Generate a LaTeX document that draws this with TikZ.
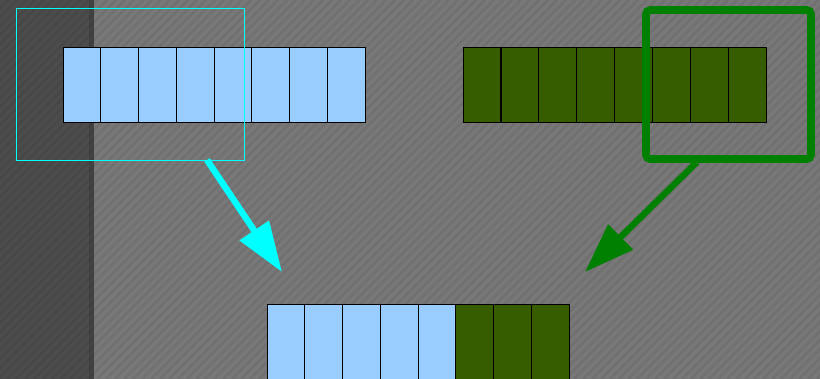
\documentclass[tikz,border=0pt]{standalone}
\usetikzlibrary{arrows.meta}
\definecolor{hellblau}{HTML}{99CCFF}
\definecolor{dunkelgruen}{HTML}{365E00}
\definecolor{rahmengruen}{HTML}{008000}
\definecolor{grundgrau}{HTML}{787878}
\definecolor{tuerkis}{HTML}{00FFFF}
\begin{document}
\begin{tikzpicture}[
      x=0.025cm, y=-0.025cm,
      cell/.style={draw=black, line width=0.6pt, inner sep=0pt, minimum width=0.944cm, minimum height=1.875cm},
      bluecell/.style={cell, fill=hellblau},
      greencell/.style={cell, fill=dunkelgruen},
      auswahl/.style={draw=tuerkis, line width=0.7pt, inner sep=0pt},
      auswahlgruen/.style={draw=rahmengruen, line width=0.19cm, rounded corners=3pt, inner sep=0pt},
      pfeil/.style={-{Triangle[length=1.25cm, width=0.85cm]}, line width=0.16cm},
      streifen/.style={black, opacity=0.06, line width=1.8pt}
    ]
      \useasboundingbox (0,0) rectangle (820,379);
      \fill[grundgrau] (0,0) rectangle (820,379);
      \fill[black, opacity=0.36] (0,0) rectangle (94,379);
      \fill[black, opacity=0.12] (89,0) rectangle (94,379);
      \begin{scope}
        \clip (0,0) rectangle (820,379);
        \foreach \k in {-380,-371,...,820}
          \draw[streifen] (\k,379) -- ++(379,-379);
      \end{scope}
      \foreach \i in {0,...,7}
        \node[bluecell] (blau\i) at (63+18.9+37.75*\i,84.5) {};
      \foreach \i in {0,...,7}
        \node[greencell] (gruen\i) at (463+18.9+37.9*\i,84.5) {};
      \foreach \i in {0,...,4}
        \node[bluecell] (mixb\i) at (267+18.9+37.75*\i,341.5) {};
      \foreach \i in {5,6,7}
        \node[greencell] (mixg\i) at (267+18.9+37.75*\i,341.5) {};
      \node[auswahl, minimum width=5.675cm, minimum height=3.775cm] (selblau) at (130.5,84.5) {};
      \node[auswahlgruen, minimum width=4.125cm, minimum height=3.725cm] (selgruen) at (728.5,84.5) {};
      \coordinate (startblau) at (207,160);
      \coordinate (zielblau) at (282,272);
      \coordinate (startgruen) at (697,162);
      \coordinate (zielgruen) at (585,272);
      \draw[pfeil, tuerkis] (startblau) -- (zielblau);
      \draw[pfeil, rahmengruen] (startgruen) -- (zielgruen);
    \end{tikzpicture}
\end{document}
